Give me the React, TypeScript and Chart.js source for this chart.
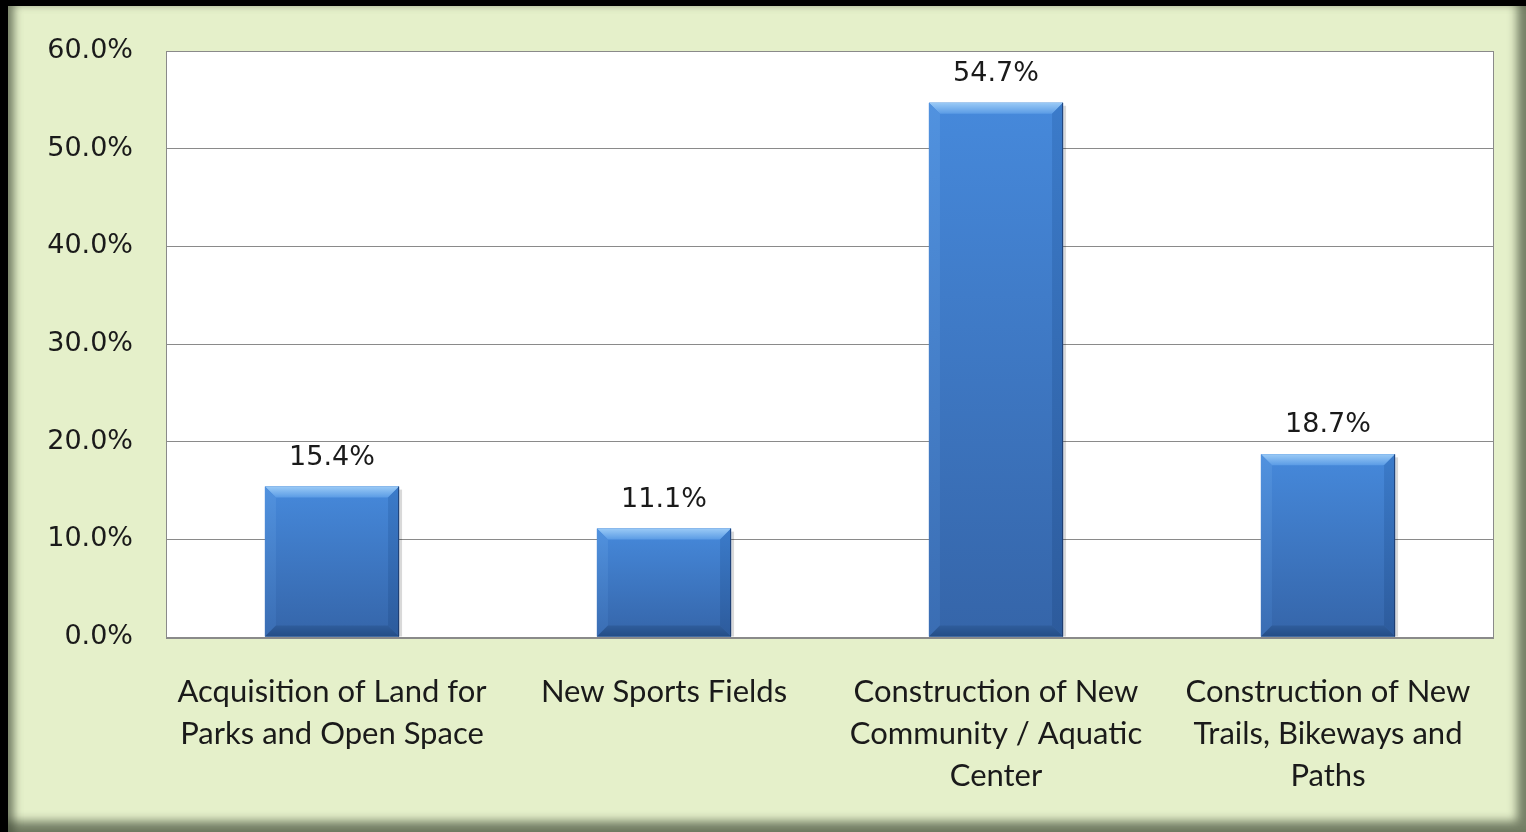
import React, { useEffect, useRef } from "react";
import { Chart, registerables } from "chart.js";

Chart.register(...registerables);

const categories: (string | string[])[] = [
  ["Acquisition of Land for", "Parks and Open Space"],
  "New Sports Fields",
  ["Construction of New", "Community / Aquatic", "Center"],
  ["Construction of New", "Trails, Bikeways and", "Paths"],
];
const values: number[] = [15.4, 11.1, 54.7, 18.7];
const yTicks: number[] = [0, 10, 20, 30, 40, 50, 60];

const W = 1526;
const H = 832;

const plotBgPlugin = {
  id: "plotBg",
  beforeDraw(chart: any) {
    const { ctx, chartArea } = chart;
    ctx.save();
    ctx.fillStyle = "#ffffff";
    ctx.fillRect(chartArea.left, chartArea.top, chartArea.right - chartArea.left, chartArea.bottom - chartArea.top);
    ctx.restore();
  },
  afterDraw(chart: any) {
    const { ctx, chartArea } = chart;
    ctx.save();
    ctx.strokeStyle = "#8a8a8a";
    ctx.lineWidth = 1;
    ctx.strokeRect(chartArea.left + 0.5, chartArea.top + 0.5, chartArea.right - chartArea.left - 1, chartArea.bottom - chartArea.top);
    ctx.lineWidth = 2;
    ctx.beginPath();
    ctx.moveTo(chartArea.left, chartArea.bottom + 1);
    ctx.lineTo(chartArea.right, chartArea.bottom + 1);
    ctx.stroke();
    ctx.restore();
  },
};

const bevelPlugin = {
  id: "bevelBars",
  afterDatasetsDraw(chart: any) {
    const { ctx } = chart;
    const meta = chart.getDatasetMeta(0);
    meta.data.forEach((bar: any, i: number) => {
      const { x, y, base, width } = bar.getProps(["x", "y", "base", "width"], true);
      const l = x - width / 2;
      const r = x + width / 2;
      const t = y;
      const b = base;
      const bv = 11;
      ctx.save();
      // shadow
      ctx.fillStyle = "rgba(0,0,0,0.15)";
      ctx.fillRect(l + 2, t + 3, width + 1, b - t - 3);
      // face
      const g = ctx.createLinearGradient(0, t, 0, b);
      g.addColorStop(0, "#4689db");
      g.addColorStop(1, "#3565a9");
      ctx.fillStyle = g;
      ctx.fillRect(l, t, width, b - t);
      // top bevel
      const gt = ctx.createLinearGradient(0, t, 0, t + bv);
      gt.addColorStop(0, "#9acaf6");
      gt.addColorStop(1, "#5a9be5");
      ctx.fillStyle = gt;
      ctx.beginPath();
      ctx.moveTo(l, t);
      ctx.lineTo(r, t);
      ctx.lineTo(r - bv, t + bv);
      ctx.lineTo(l + bv, t + bv);
      ctx.closePath();
      ctx.fill();
      // left bevel
      const gl = ctx.createLinearGradient(0, t, 0, b);
      gl.addColorStop(0, "#5192df");
      gl.addColorStop(1, "#3a6db3");
      ctx.fillStyle = gl;
      ctx.beginPath();
      ctx.moveTo(l, t);
      ctx.lineTo(l + bv, t + bv);
      ctx.lineTo(l + bv, b - bv);
      ctx.lineTo(l, b);
      ctx.closePath();
      ctx.fill();
      // right bevel
      const gr = ctx.createLinearGradient(0, t, 0, b);
      gr.addColorStop(0, "#3b7bca");
      gr.addColorStop(1, "#2d5b9c");
      ctx.fillStyle = gr;
      ctx.beginPath();
      ctx.moveTo(r, t);
      ctx.lineTo(r, b);
      ctx.lineTo(r - bv, b - bv);
      ctx.lineTo(r - bv, t + bv);
      ctx.closePath();
      ctx.fill();
      // bottom bevel
      const gb = ctx.createLinearGradient(0, b - bv, 0, b);
      gb.addColorStop(0, "#2f5d9c");
      gb.addColorStop(1, "#244d86");
      ctx.fillStyle = gb;
      ctx.beginPath();
      ctx.moveTo(l, b);
      ctx.lineTo(r, b);
      ctx.lineTo(r - bv, b - bv);
      ctx.lineTo(l + bv, b - bv);
      ctx.closePath();
      ctx.fill();
      // outline
      ctx.strokeStyle = "rgba(25,50,95,0.75)";
      ctx.lineWidth = 1;
      ctx.beginPath();
      ctx.moveTo(r - 0.5, t);
      ctx.lineTo(r - 0.5, b);
      ctx.stroke();
      // value label
      ctx.fillStyle = "#1a1a1a";
      ctx.font = "27px 'DejaVu Sans'";
      ctx.textAlign = "center";
      ctx.textBaseline = "alphabetic";
      ctx.fillText(values[i].toFixed(1) + "%", x, t - 22);
      ctx.restore();
    });
  },
};

export default function App() {
  const ref = useRef<HTMLCanvasElement | null>(null);

  useEffect(() => {
    document.body.style.margin = "0";
    document.body.style.background = "#000";
    const canvas = ref.current;
    if (!canvas) return;
    const chart = new Chart(canvas, {
      type: "bar",
      data: {
        labels: categories,
        datasets: [
          {
            data: values,
            backgroundColor: "#3f7fd0",
            barPercentage: 0.404,
            categoryPercentage: 1,
          },
        ],
      },
      options: {
        responsive: false,
        animation: false,
        devicePixelRatio: 1,
        layout: { padding: { left: 0, right: 32, top: 51, bottom: 0 } },
        plugins: {
          legend: { display: false },
          tooltip: { enabled: false },
        },
        scales: {
          x: {
            grid: { display: false, drawTicks: false },
            border: { display: false },
            ticks: {
              color: "#1a1a1a",
              font: { family: "Lato", size: 31, lineHeight: 1.355 },
              padding: 34,
              maxRotation: 0,
              autoSkip: false,
            },
            afterFit: (scale: any) => {
              scale.height = 195;
            },
          },
          y: {
            min: 0,
            max: 60,
            afterBuildTicks: (scale: any) => {
              scale.ticks = yTicks.map((v) => ({ value: v }));
            },
            grid: { color: "#8a8a8a", lineWidth: 1, drawTicks: false },
            border: { display: false },
            ticks: {
              color: "#1a1a1a",
              font: { family: "DejaVu Sans", size: 27 },
              padding: 33,
              callback: (v: any) => Number(v).toFixed(1) + "%",
            },
            afterFit: (scale: any) => {
              scale.width = 166;
            },
          },
        },
      },
      plugins: [plotBgPlugin, bevelPlugin],
    });
    return () => chart.destroy();
  }, []);

  return (
    <div style={{ position: "relative", width: W, height: H, background: "#000", overflow: "hidden" }}>
      <div
        style={{
          position: "absolute",
          left: 8,
          top: 6,
          width: W - 8,
          height: H - 6,
          background: "#e5f0ca",
          boxShadow:
            "inset 9px 1px 8px -3px rgba(70,80,60,0.7), inset -12px -14px 10px -3px rgba(70,80,60,0.7)",
        }}
      />
      <canvas ref={ref} width={W} height={H} style={{ position: "absolute", left: 0, top: 0, width: W, height: H }} />
    </div>
  );
}
